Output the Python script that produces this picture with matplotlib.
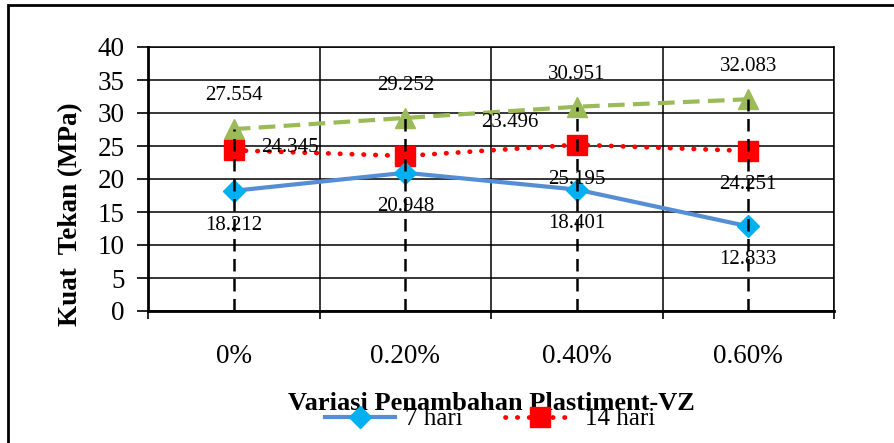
import matplotlib.pyplot as plt
from matplotlib.patches import Rectangle
from matplotlib.lines import Line2D

plt.rcParams['font.family'] = ['Liberation Serif', 'DejaVu Serif']

# data
categories = ['0%', '0.20%', '0.40%', '0.60%']
hari_7 = [18.212, 20.948, 18.401, 12.833]
hari_14 = [24.345, 23.496, 25.195, 24.251]
hari_28 = [27.554, 29.252, 30.951, 32.083]

# label offsets (x in category units, y in MPa)
off_7 = [(0, -5.2), (0, -5.1), (0, -5.1), (0, -5.1)]
off_14 = [(0.33, 0.45), (0.61, 5.0), (0, -5.2), (0, -5.15)]
off_28 = [(0, 5.1), (0, 4.9), (0, 4.95), (0, 5.0)]

blue = '#558ED5'
cyan = '#00B0F0'
red = '#FF0000'
green = '#9BBB59'

fig = plt.figure(figsize=(8.94, 4.43), dpi=100)
ax = fig.add_axes([148 / 894, 1 - 311 / 443, 686 / 894, 264 / 443])

x = list(range(len(categories)))

ax.plot(x, hari_28, color=green, lw=3, ls=(0, (4, 2)), marker='^', ms=15,
        mfc=green, mec=green, zorder=3)
ax.plot(x, hari_14, color=red, lw=3.4, ls=(0, (0.1, 2.4)),
        dash_capstyle='round', marker='s', ms=15, mfc=red, mec=red,
        zorder=4)
ax.plot(x, hari_7, color=blue, lw=3, marker='D', ms=11, mfc=cyan,
        mec=cyan, zorder=5)

# drop lines
tops = [max(a, b, c) for a, b, c in zip(hari_7, hari_14, hari_28)]
ax.vlines(x, 0, tops, colors='black', lw=1.8, linestyles=(0, (5, 3)),
          zorder=6)

for vals, offs in ((hari_7, off_7), (hari_14, off_14), (hari_28, off_28)):
    for i, (v, (dx, dy)) in enumerate(zip(vals, offs)):
        ax.text(i + dx, v + dy, f'{v:.3f}', ha='center', va='center',
                fontsize=15, zorder=7)

ax.set_xlim(-0.5, len(categories) - 0.5)
ax.set_ylim(0, 40)
ax.set_yticks(range(0, 41, 5))
ax.set_xticks([i - 0.5 for i in range(len(categories) + 1)])
ax.set_xticklabels([])
ax.set_xticks(x, minor=True)
ax.set_xticklabels(categories, minor=True, fontsize=19.5)
ax.tick_params(axis='x', which='minor', length=0, pad=24)
ax.tick_params(axis='x', which='major', length=6, width=1.2, direction='out')
ax.tick_params(axis='y', length=8, width=1.2, labelsize=19.5, pad=9)

ax.grid(True, which='major', color='black', lw=1.1)
ax.set_axisbelow(True)
for s in ['top', 'right']:
    ax.spines[s].set_linewidth(1.1)
for s in ['left', 'bottom']:
    ax.spines[s].set_linewidth(2)

ax.set_ylabel('Kuat  Tekan (MPa)', fontsize=19.5, fontweight='bold')
ax.yaxis.set_label_coords((83 - 148) / 686, (311 - 214) / 264)
fig.text(491 / 894, 1 - 403 / 443, 'Variasi Penambahan Plastiment-VZ',
         ha='center', va='center', fontsize=19, fontweight='bold')

handles = [
    Line2D([], [], color=blue, lw=3, marker='D', ms=11, mfc=cyan, mec=cyan),
    Line2D([], [], color=red, lw=3.4, ls=(0, (0.1, 2.4)),
           dash_capstyle='round', marker='s', ms=15, mfc=red, mec=red),
]
fig.legend(handles, ['7 hari', '14 hari'], loc='center',
           bbox_to_anchor=(490 / 894, 1 - 419 / 443), ncol=2, frameon=False,
           fontsize=18, handlelength=2.8, handletextpad=0.4,
           columnspacing=1.7)

fig.patches.append(Rectangle((8 / 894, -0.1), 1.2, 1.1 - 5 / 443,
                             transform=fig.transFigure, fill=False,
                             lw=2, ec='black'))

fig.savefig('out.png', dpi=100)
